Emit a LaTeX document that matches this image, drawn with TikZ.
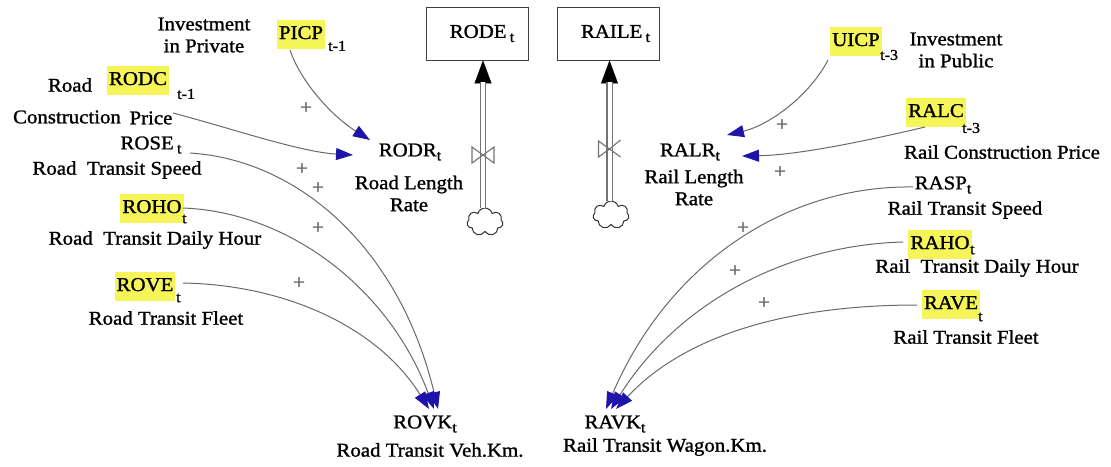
\documentclass[tikz,border=0pt]{standalone}
\usepackage{fontspec}
\setmainfont[FakeStretch=1.07,FakeBold=1.2]{Liberation Serif}
\usetikzlibrary{arrows.meta,shapes.symbols}
\definecolor{hlyellow}{RGB}{245,245,90}
\definecolor{linkgray}{RGB}{105,105,105}
\definecolor{tipblue}{RGB}{30,20,170}
\definecolor{pipegray}{RGB}{115,115,115}
\newcommand\lowtxt[1]{\raisebox{-0.45ex}{\fontsize{15}{15}\selectfont #1}}

\begin{document}
\begin{tikzpicture}[x=1pt,y=-1pt,
  every node/.style={font=\fontsize{19.5}{22}\selectfont, inner sep=0pt},
  hl/.style={fill=hlyellow, inner xsep=2pt, inner ysep=6pt, text height=13.5pt, text depth=3.5pt},
  sub/.style={font=\fontsize{15}{15}\selectfont},
  desc/.style={align=center},
  plus/.style={font=\fontsize{20}{20}\selectfont, text=black!60},
  link/.style={draw=linkgray, line width=1pt, -{Triangle[length=17pt,width=12pt,color=tipblue]}},
  stock/.style={draw=black!75, line width=0.9pt, minimum width=102pt, minimum height=53pt},
  pipe/.style={draw=pipegray, line width=1.2pt, double=white, double distance=4pt},
  valve/.style={draw=pipegray, line width=1.1pt},
  source/.style={cloud, cloud puffs=7, cloud ignores aspect, draw=black!80, line width=1pt, minimum width=36pt, minimum height=28pt}
]
\useasboundingbox (0,0) rectangle (1111,466);

% ---------- stocks and their inflows ----------
\node[stock] (rode) at (477,33.5) {\hspace*{10pt}RODE\,\lowtxt{t}};
\node[stock] (raile) at (608.5,33.5) {\hspace*{14pt}RAILE\,\lowtxt{t}};
\node[source] (cloudA) at (485,222) {};
\node[source] (cloudB) at (611,215) {};
\coordinate (valveA) at (483,155);
\coordinate (valveB) at (609.5,149);

\draw[draw=white, line width=0.1pt, -{Triangle[length=23pt,width=17pt,color=black]}]
  (valveA) -- ([xshift=6pt]rode.south);
\draw[pipe, shorten >=22pt] ([xshift=-2pt]cloudA.north) -- ([xshift=6pt]rode.south);
\draw[draw=white, line width=0.1pt, -{Triangle[length=23pt,width=17pt,color=black]}]
  (valveB) -- ([xshift=1pt]raile.south);
\draw[pipe, shorten >=22pt] ([xshift=-1.5pt]cloudB.north) -- ([xshift=1pt]raile.south);

\draw[valve, shift={(valveA)}] (-11,-8) -- (-11,8) -- (0,0) -- cycle
  (11,-8) -- (11,8) -- (0,0) -- cycle;
\draw[valve, shift={(valveB)}] (-11,-8) -- (-11,8) -- (0,0) -- cycle
  (0,0) -- (11,-9) (0,0) -- (11,8);

% ---------- road side ----------
\node[desc] at (204,35) {Investment\\in Private};
\node[hl] (picp) at (301,34) {PICP};
\node[sub, anchor=west] at (328,46) {t-1};

\node at (70,85) {Road};
\node[hl] (rodc) at (138,80) {RODC};
\node[sub, anchor=west] at (177,94) {t-1};
\node at (67,117) {Construction};
\node at (151,118) {Price};

\node (rose) at (151,145) {ROSE\,\lowtxt{t}};
\node at (117,170) {Road~~Transit Speed};
\node[hl] (roho) at (152,208) {ROHO};
\node[sub, anchor=west] at (182,219) {t};
\node at (155,240) {Road~~Transit Daily Hour};
\node[hl] (rove) at (145,286) {ROVE};
\node[sub, anchor=west] at (176,298) {t};
\node at (166,318) {Road Transit Fleet};

\node (rodr) at (410,152) {RODR\lowtxt{t}};
\node[desc] at (409,193.5) {Road Length\\Rate};
\node (rovk) at (425,424) {ROVK\lowtxt{t}};
\node at (430,450) {Road Transit Veh.Km.};

% ---------- rail side ----------
\node[hl] (uicp) at (856,41) {UICP};
\node[sub, anchor=west] at (880,55) {t-3};
\node[desc] at (956,50) {Investment\\in Public};
\node[hl] (ralc) at (936,112) {RALC};
\node[sub, anchor=west] at (962,128) {t-3};
\node at (1002,152) {Rail Construction Price};

\node (ralr) at (690,152) {RALR\lowtxt{t}};
\node[desc] at (694,187.5) {Rail Length\\Rate};
\node (rasp) at (943,185) {RASP\lowtxt{t}};
\node at (965,210) {Rail Transit Speed};
\node[hl] (raho) at (940,244) {RAHO};
\node[sub, anchor=west] at (970,250) {t};
\node at (977,268) {Rail~~Transit Daily Hour};
\node[hl] (rave) at (951,304) {RAVE};
\node[sub, anchor=west] at (978,317) {t};
\node at (966,337) {Rail Transit Fleet};
\node (ravk) at (615,424) {RAVK\lowtxt{t}};
\node at (665,447) {Rail Transit Wagon.Km.};

% ---------- causal links ----------
\draw[link] ([shift={(-11,16)}]picp.center) .. controls (300,80) and (330,115) .. ([shift={(-40,-12)}]rodr.center);
\draw[link] ([shift={(35,33)}]rodc.center) .. controls (230,128) and (300,152) .. ([shift={(-57,3)}]rodr.center);
\draw[link] ([shift={(39,8)}]rose.center) .. controls (300,160) and (400,250) .. ([shift={(13,-15)}]rovk.center);
\draw[link] ([shift={(31,0)}]roho.center) .. controls (290,212) and (390,290) .. ([shift={(9,-15)}]rovk.center);
\draw[link] ([shift={(38,-3)}]rove.center) .. controls (290,285) and (380,330) .. ([shift={(4,-15)}]rovk.center);

\draw[link] ([shift={(-28,19)}]uicp.center) .. controls (810,95) and (770,125) .. ([shift={(37,-17)}]ralr.center);
\draw[link] ([shift={(-11,15)}]ralc.center) .. controls (870,140) and (800,155) .. ([shift={(52,4)}]ralr.center);
\draw[link] ([shift={(-30,2)}]rasp.center) .. controls (790,185) and (670,260) .. ([shift={(-9,-15)}]ravk.center);
\draw[link] ([shift={(-37,-2)}]raho.center) .. controls (790,245) and (680,300) .. ([shift={(-4,-15)}]ravk.center);
\draw[link] ([shift={(-34,1)}]rave.center) .. controls (800,305) and (690,330) .. ([shift={(1,-15)}]ravk.center);

% ---------- polarities ----------
\foreach \p in {(306,108),(302,169),(318,188),(318,228),(299,283),
                (782,125),(780,172),(743,228),(735,271),(764,303)}
  \node[plus] at \p {+};
\end{tikzpicture}
\end{document}
